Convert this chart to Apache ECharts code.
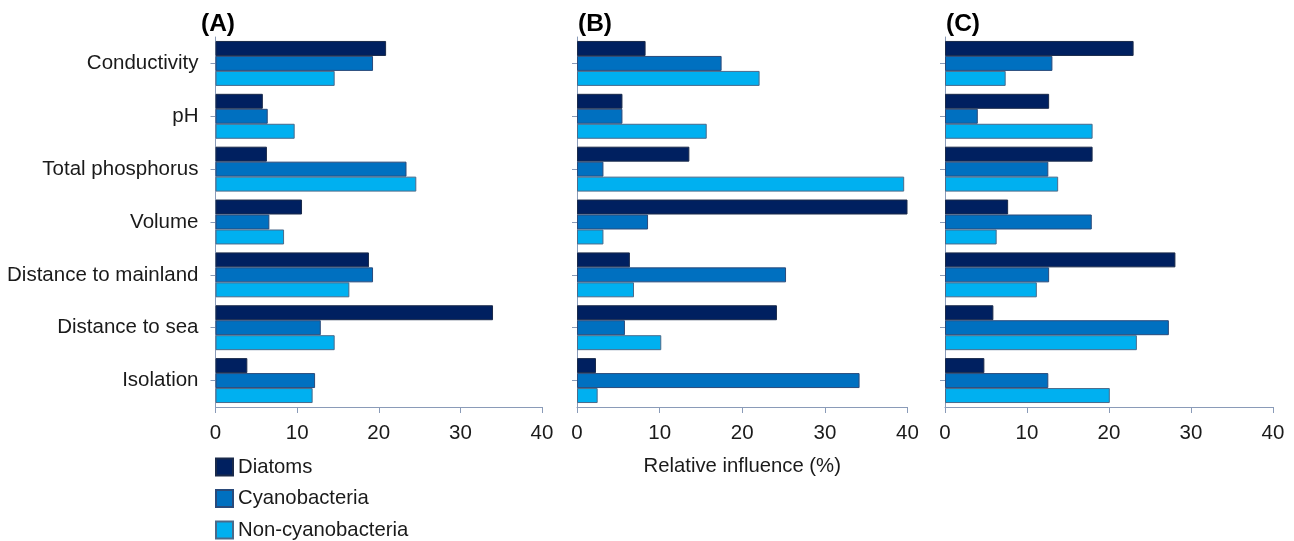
<!DOCTYPE html>
<html><head><meta charset="utf-8">
<script src="https://cdn.jsdelivr.net/npm/echarts@6/dist/echarts.min.js"></script>
<style>html,body{margin:0;padding:0;background:#fff}#c{width:1294px;height:541px}</style>
</head><body><div id="c"></div>
<script>
const categories = ['Conductivity','pH','Total phosphorus','Volume','Distance to mainland','Distance to sea','Isolation'];
const seriesNames = ['Diatoms','Cyanobacteria','Non-cyanobacteria'];
const xTicks = [0,10,20,30,40];
const panelTitles = ['(A)','(B)','(C)'];
// Panel A
const aDiatoms = [20.9, 5.8, 6.3, 10.6, 18.8, 34.0, 3.9];
const aCyano   = [19.3, 6.4, 23.4, 6.6, 19.3, 12.9, 12.2];
const aNonCyano= [14.6, 9.7, 24.6, 8.4, 16.4, 14.6, 11.9];
// Panel B
const bDiatoms = [8.3, 5.5, 13.6, 40.0, 6.4, 24.2, 2.3];
const bCyano   = [17.5, 5.5, 3.2, 8.6, 25.3, 5.8, 34.2];
const bNonCyano= [22.1, 15.7, 39.6, 3.2, 6.9, 10.2, 2.5];
// Panel C
const cDiatoms = [23.0, 12.7, 18.0, 7.7, 28.1, 5.9, 4.8];
const cCyano   = [13.1, 4.0, 12.6, 17.9, 12.7, 27.3, 12.6];
const cNonCyano= [7.4, 18.0, 13.8, 6.3, 11.2, 23.4, 20.1];

const panels = [[aDiatoms,aCyano,aNonCyano],[bDiatoms,bCyano,bNonCyano],[cDiatoms,cCyano,cNonCyano]];
const colors = ['#002060','#0070C0','#00B0F0'];
const borders = ['#1a2a4a','#2a4a7a','#4a6a8a'];
const gridLefts = [215.5, 577, 945];
const gridWidths = [326.5, 330.5, 328];
const axisColor = '#8a9bb8';
const textColor = '#1a1a1a';
const font = 'Liberation Sans, Arial, sans-serif';

const grids = [], xAxes = [], yAxes = [], series = [], titles = [];
for (let p = 0; p < 3; p++) {
  grids.push({left: gridLefts[p], width: gridWidths[p], top: 37, height: 370});
  xAxes.push({
    type: 'value', gridIndex: p, min: 0, max: 40, interval: 10,
    axisLine: {show: true, lineStyle: {color: axisColor, width: 1}},
    axisTick: {show: true, length: 6, lineStyle: {color: axisColor}},
    splitLine: {show: false},
    axisLabel: {color: textColor, fontSize: 20.5, fontFamily: font, margin: 16,
      formatter: v => xTicks.includes(v) ? String(v) : ''},
    name: p === 1 ? 'Relative influence (%)' : '',
    nameLocation: 'middle', nameGap: 49,
    nameTextStyle: {color: textColor, fontSize: 20.3, fontFamily: font}
  });
  yAxes.push({
    type: 'category', gridIndex: p, data: categories, inverse: true,
    axisLine: {show: true, lineStyle: {color: axisColor, width: 1}},
    axisTick: {show: true, length: 5, alignWithLabel: true, lineStyle: {color: axisColor}},
    axisLabel: {show: p === 0, color: textColor, fontSize: 20.5, fontFamily: font, margin: 17}
  });
  for (let s = 0; s < 3; s++) {
    series.push({
      type: 'bar', name: seriesNames[s], xAxisIndex: p, yAxisIndex: p,
      data: panels[p][s], barGap: '0%', barCategoryGap: '15%',
      itemStyle: {color: colors[s], borderColor: borders[s], borderWidth: 1},
      emphasis: {disabled: true}
    });
  }
  titles.push({text: panelTitles[p], left: [196, 573, 941][p], top: 7,
    textStyle: {fontSize: 24.5, fontWeight: 'bold', color: '#000', fontFamily: font}});
}

const chart = echarts.init(document.getElementById('c'), null, {renderer: 'canvas'});
chart.setOption({
  animation: false,
  backgroundColor: '#fff',
  title: titles,
  legend: {
    data: seriesNames, orient: 'vertical', left: 215, top: 457, height: 90, padding: 0,
    itemWidth: 17, itemHeight: 17, itemGap: 11.5, icon: 'rect',
    textStyle: {color: textColor, fontSize: 20.3, fontFamily: font}
  },
  grid: grids, xAxis: xAxes, yAxis: yAxes, series: series
});
</script></body></html>
